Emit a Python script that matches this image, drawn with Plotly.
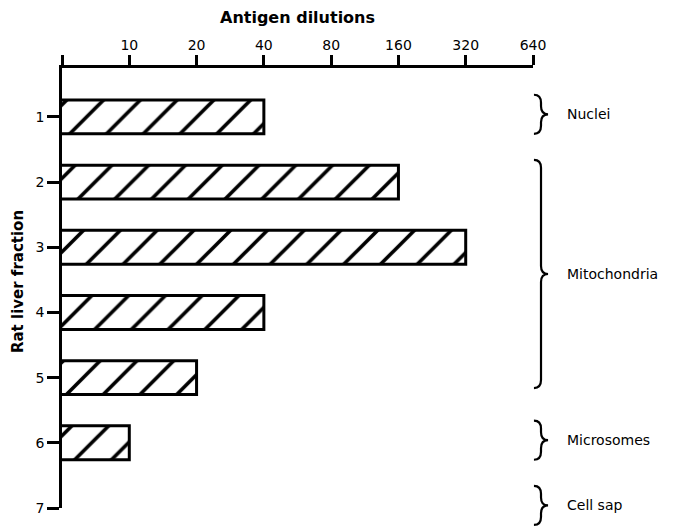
import plotly.graph_objects as go

# Data
fractions = [1, 2, 3, 4, 5, 6, 7]
dilutions = [40, 160, 320, 40, 20, 10, None]
x_ticks = [5, 10, 20, 40, 80, 160, 320, 640]
x_ticklabels = ["", "10", "20", "40", "80", "160", "320", "640"]
groups = ["Nuclei", "Mitochondria", "Microsomes", "Cell sap"]
group_start = [1, 2, 6, 7]
group_end = [1, 5, 6, 7]

FONT = "DejaVu Sans"
Y_LO, Y_HI = 0.25, 7.0

fig = go.Figure()
fig.add_trace(go.Bar(
    x=dilutions, y=fractions, orientation="h", width=0.52,
    marker=dict(color="white", line=dict(color="black", width=3),
                pattern=dict(shape="/", size=26, solidity=0.14,
                             fgcolor="black", bgcolor="white", fgopacity=1)),
    showlegend=False, hoverinfo="x+y",
))

def py(c):
    return (Y_HI - c) / (Y_HI - Y_LO)

shapes = []
annotations = []
x0, xm, xt = 1.002, 1.017, 1.032
d = 8 / 442.0
for name, s, e in zip(groups, group_start, group_end):
    ya = py(s - 0.34)
    yb = py(e + (0.16 if e > s else 0.26))
    ymid = (ya + yb) / 2
    path = (f"M {x0},{ya} Q {xm},{ya} {xm},{ya-d} L {xm},{ymid+d} "
            f"Q {xm},{ymid} {xt},{ymid} Q {xm},{ymid} {xm},{ymid-d} "
            f"L {xm},{yb+d} Q {xm},{yb} {x0},{yb}")
    shapes.append(dict(type="path", path=path, xref="paper", yref="paper",
                       line=dict(color="black", width=2.2)))
    annotations.append(dict(text=name, x=1.068, y=ymid, xref="paper", yref="paper",
                            xanchor="left", yanchor="middle", showarrow=False,
                            font=dict(family=FONT, size=14, color="black")))

annotations.append(dict(text="Antigen dilutions", x=0.5, y=1.115, xref="paper",
                        yref="paper", xanchor="center", yanchor="middle",
                        showarrow=False,
                        font=dict(family=FONT, size=16, color="black", weight="bold")))
annotations.append(dict(text="Rat liver fraction", x=-0.092, y=0.515, xref="paper",
                        yref="paper", xanchor="center", yanchor="middle", textangle=-90,
                        showarrow=False,
                        font=dict(family=FONT, size=15, color="black", weight="bold")))

# page body has an 8px margin: shrink the figure and margins to compensate
fig.update_layout(
    width=673, height=520,
    margin=dict(l=54, r=148, t=60, b=18),
    paper_bgcolor="white", plot_bgcolor="white",
    font=dict(family=FONT, size=14, color="black"),
    shapes=shapes, annotations=annotations,
    xaxis=dict(type="log", side="top", range=[0.69897, 2.80618],
               tickvals=x_ticks, ticktext=x_ticklabels,
               showline=True, linecolor="black", linewidth=2.5,
               ticks="outside", ticklen=10, tickwidth=2.5, tickcolor="black",
               showgrid=False, zeroline=False,
               tickfont=dict(family=FONT, size=14, color="black")),
    yaxis=dict(range=[Y_HI, Y_LO], tickvals=fractions,
               ticktext=[str(f) for f in fractions],
               showline=True, linecolor="black", linewidth=2.5,
               ticks="outside", ticklen=12, tickwidth=2.5, tickcolor="black",
               showgrid=False, zeroline=False,
               tickfont=dict(family=FONT, size=14, color="black")),
)

fig.write_html("out.html")
